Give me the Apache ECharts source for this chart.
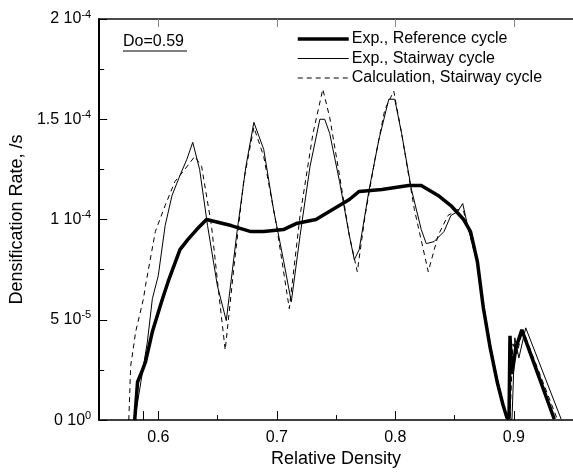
<!DOCTYPE html>
<html>
<head>
<meta charset="utf-8">
<script src="https://cdn.jsdelivr.net/npm/echarts@6/dist/echarts.min.js"></script>
<style>
html,body{margin:0;padding:0;background:#fff;}
#c{width:573px;height:473px;}
</style>
</head>
<body>
<div id="c"></div>
<script>
// ---- data (y in units of 1e-5 /s) ----
const refX = [0.580,0.5824,0.5866,0.5891,0.5949,0.6032,0.6082,0.6182,0.6248,0.6323,0.6406,0.6614,0.6781,0.6889,0.7055,0.7163,0.7330,0.7471,0.7612,0.7695,0.7887,0.8111,0.8219,0.8361,0.8469,0.8577,0.8635,0.8693,0.8743,0.8801,0.8860,0.8910,0.8943,0.8960,0.8968,0.8985,0.9018,0.9068,0.9342];
const refY = [0,1.9,2.5,2.9,4.4,6.0,6.9,8.5,9.0,9.5,10.0,9.7,9.4,9.4,9.5,9.8,10.0,10.5,11.0,11.4,11.5,11.7,11.7,11.2,10.7,10.0,9.4,7.9,5.6,3.6,1.9,0.74,0.1,0.1,4.2,2.3,3.6,4.5,0.05];

const stairX = [0.580,0.5907,0.5949,0.5999,0.6057,0.6115,0.6182,0.6240,0.6290,0.6348,0.6415,0.6498,0.6573,0.6664,0.6739,0.6806,0.6889,0.6972,0.7055,0.7122,0.7196,0.7280,0.7363,0.7404,0.7446,0.7529,0.7612,0.7654,0.7695,0.7779,0.7862,0.7945,0.7995,0.8053,0.8136,0.8219,0.8261,0.8327,0.8411,0.8469,0.8527,0.8569,0.8610,0.8693,0.8743,0.8801,0.8860,0.8918,0.8943,0.8985,0.9009,0.9043,0.9101,0.9400];
const stairY = [0,3.9,6.05,7.2,9.7,11.2,12.2,13.0,13.85,12.5,9.7,6.7,4.96,9.4,12.65,14.85,13.5,10.5,8.0,5.9,9.2,12.65,15.0,15.0,14.3,11.9,9.2,8.0,8.5,11.5,14.0,16.0,16.0,14.3,11.5,9.5,8.8,8.9,9.4,10.2,10.4,10.8,9.7,7.9,5.8,3.8,2.1,0.6,0.05,0.05,4.1,3.1,4.6,0.05];

const calcX = [0.575,0.5766,0.5791,0.5808,0.5874,0.5891,0.5974,0.6057,0.6140,0.6223,0.6307,0.6365,0.6448,0.6515,0.6564,0.6639,0.6722,0.6806,0.6889,0.6997,0.7105,0.7196,0.7305,0.7388,0.7446,0.7529,0.7612,0.7679,0.7745,0.7828,0.7912,0.7987,0.8053,0.8161,0.8278,0.8361,0.8444,0.8527,0.8577,0.8693,0.8801,0.8918,0.8968,0.8993,0.9026,0.9076,0.9367];
const calcY = [0,2.7,3.7,4.4,6.05,6.7,9.4,10.7,11.9,12.5,13.15,12.65,9.7,6.05,3.5,7.7,12.0,14.6,13.15,9.7,5.56,10.2,14.3,16.5,15.1,12.2,9.2,7.4,10.2,13.0,15.5,16.4,14.3,10.5,7.4,9.2,10.2,10.5,10.4,7.8,3.6,0.5,0.05,3.8,3.3,4.5,0.05];

const seriesNames = ['Exp., Reference cycle','Exp., Stairway cycle','Calculation, Stairway cycle'];

// ---- axes / ticks ----
const xLabelValues = [0.6,0.7,0.8,0.9];
const xMajorTicks = [0.5875,0.6,0.7,0.8,0.9];
const xMinorTicks = [0.65,0.75,0.85];
const yMajorTicks = [0,5,10,15,20];
const yMinorTicks = [2.5,7.5,12.5,17.5];
const yLabelMant = ['0','5','1','1.5','2'];
const yLabelExp = ['0','-5','-4','-4','-4'];

const pairs = (xs, ys) => xs.map((x, i) => [x, ys[i]]);
const FONT = 'Liberation Sans, Arial, sans-serif';

const chart = echarts.init(document.getElementById('c'), null, {renderer:'canvas'});

const baseX = {type:'value', min:0.55, max:0.95, gridIndex:0, splitLine:{show:false}};
const baseY = {type:'value', min:0, max:20, gridIndex:0, splitLine:{show:false}};

chart.setOption({
  animation:false,
  backgroundColor:'#fff',
  grid:{left:93, top:19, right:-1, bottom:51, containLabel:false},
  xAxis:[
    Object.assign({}, baseX, {
      position:'bottom',
      axisLine:{show:true, lineStyle:{color:'#000', width:1.5}},
      axisTick:{show:true, inside:true, length:9, customValues:xMajorTicks, lineStyle:{color:'#000', width:1}},
      axisLabel:{show:true, customValues:xLabelValues, formatter:v=>String(v), color:'#000', fontSize:16, fontFamily:FONT, margin:9},
      name:'Relative Density', nameLocation:'middle', nameGap:24,
      nameTextStyle:{color:'#000', fontSize:18, fontFamily:FONT}
    }),
    Object.assign({}, baseX, {
      position:'bottom',
      axisLine:{show:false},
      axisTick:{show:true, inside:true, length:5, customValues:xMinorTicks, lineStyle:{color:'#000', width:1}},
      axisLabel:{show:false}
    }),
    Object.assign({}, baseX, {
      position:'top',
      axisLine:{show:true, lineStyle:{color:'#111', width:1.5}},
      axisTick:{show:true, inside:true, length:8, customValues:xLabelValues, lineStyle:{color:'#888', width:1}},
      axisLabel:{show:false}
    })
  ],
  yAxis:[
    Object.assign({}, baseY, {
      position:'left',
      axisLine:{show:true, lineStyle:{color:'#000', width:2}},
      axisTick:{show:true, inside:true, length:8, customValues:yMajorTicks, lineStyle:{color:'#000', width:1}},
      axisLabel:{show:true, customValues:yMajorTicks, margin:8,
        formatter:v=>{const i=yMajorTicks.indexOf(v); return '{m|'+yLabelMant[i]+' 10}{e|'+yLabelExp[i]+'}';},
        rich:{
          m:{fontSize:16, color:'#000', fontFamily:FONT},
          e:{fontSize:11, color:'#000', fontFamily:FONT, padding:[0,0,9,0]}
        }
      },
      name:'Densification Rate, /s', nameLocation:'middle', nameGap:60, nameRotate:90,
      nameTextStyle:{color:'#000', fontSize:18, fontFamily:FONT}
    }),
    Object.assign({}, baseY, {
      position:'left',
      axisLine:{show:false},
      axisTick:{show:true, inside:true, length:5, customValues:yMinorTicks, lineStyle:{color:'#000', width:1}},
      axisLabel:{show:false}
    })
  ],
  legend:{
    orient:'vertical', left:296, top:31, padding:0,
    itemWidth:51, itemHeight:16, itemGap:3.5,
    itemStyle:{color:'rgba(0,0,0,0)', borderColor:'rgba(0,0,0,0)', borderWidth:0, opacity:0},
    lineStyle:{width:'inherit', type:'inherit'},
    textStyle:{color:'#000', fontSize:16, fontFamily:FONT, padding:[0,0,0,-2]},
    data:[
      {name:seriesNames[0], lineStyle:{width:3.5}},
      {name:seriesNames[1], lineStyle:{width:1}},
      {name:seriesNames[2], lineStyle:{width:1, type:[5,4]}}
    ]
  },
  graphic:[
    {type:'text', left:123, top:34, style:{text:'Do=0.59', fill:'#000', font:'16px '+FONT}},
    {type:'line', shape:{x1:123, y1:51, x2:187, y2:51}, style:{stroke:'#000', lineWidth:1.2}}
  ],
  series:[
    {name:seriesNames[0], type:'line', xAxisIndex:0, yAxisIndex:0, data:pairs(refX, refY),
     showSymbol:false, symbol:'none', lineStyle:{color:'#000', width:3.5}, itemStyle:{color:'#000'}, z:3},
    {name:seriesNames[1], type:'line', xAxisIndex:0, yAxisIndex:0, data:pairs(stairX, stairY),
     showSymbol:false, symbol:'none', lineStyle:{color:'#000', width:1}, itemStyle:{color:'#000'}, z:2},
    {name:seriesNames[2], type:'line', xAxisIndex:0, yAxisIndex:0, data:pairs(calcX, calcY),
     showSymbol:false, symbol:'none', lineStyle:{color:'#000', width:1, type:[5,4]}, itemStyle:{color:'#000'}, z:2}
  ]
});
</script>
</body>
</html>
